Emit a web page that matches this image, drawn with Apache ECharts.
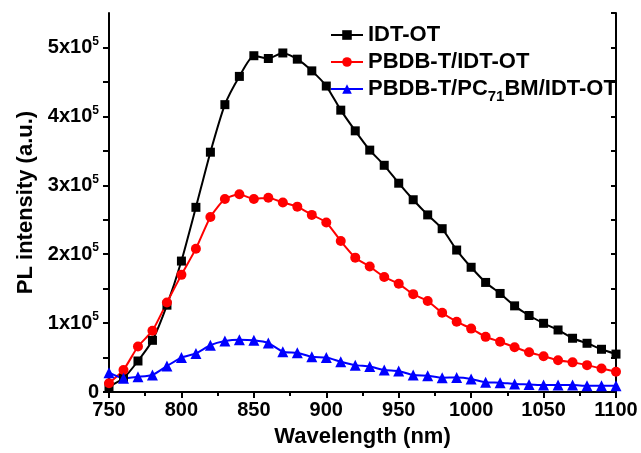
<!DOCTYPE html>
<html>
<head>
<meta charset="utf-8">
<script src="https://cdn.jsdelivr.net/npm/echarts@6/dist/echarts.min.js"></script>
<style>
  html, body { margin: 0; padding: 0; background: #fff; }
  #chart { width: 641px; height: 453px; }
</style>
</head>
<body>
<div id="chart"></div>
<script>
// Emission wavelengths (nm), sampled every 10 nm
const wavelengths = [750, 760, 770, 780, 790, 800, 810, 820, 830, 840, 850, 860, 870, 880, 890,
  900, 910, 920, 930, 940, 950, 960, 970, 980, 990, 1000, 1010, 1020, 1030, 1040, 1050,
  1060, 1070, 1080, 1090, 1100];

// PL intensity (a.u.) for each film
const idtOt = [8000, 20000, 45000, 75000, 126000, 190000, 268000, 348000, 417000, 458000, 488000,
  484000, 492000, 483000, 466000, 444000, 409000, 379000, 351000, 329000, 303000, 279000,
  257000, 237000, 206000, 181000, 159000, 143000, 125000, 111000, 99700, 90000, 78000,
  70700, 62000, 55000];
const pbdbIdt = [12600, 32000, 66000, 89000, 130000, 170000, 208000, 254000, 280000, 287000, 280000,
  282000, 275000, 269000, 257000, 246000, 219000, 195000, 182000, 167000, 157000, 142000,
  132000, 115000, 102000, 92000, 80000, 73000, 65000, 57600, 52000, 46000, 43000, 39000,
  34000, 29500];
const pbdbPcbmIdt = [28000, 20000, 22000, 24700, 37700, 50000, 56000, 68000, 74000, 76000, 75000,
  71000, 58500, 57000, 51000, 50000, 44000, 39000, 37000, 32000, 30500, 24700, 23700,
  20800, 21000, 19000, 14000, 13500, 11600, 11000, 10000, 10000, 10000, 9000, 9000, 9000];

const seriesNames = ['IDT-OT', 'PBDB-T/IDT-OT', 'PBDB-T/PC71BM/IDT-OT'];
const xTicks = { min: 750, max: 1100, step: 50 };
const yTicks = { min: 0, max: 550000, step: 100000 };

const FONT = 'Arial, "Liberation Sans", sans-serif';

function pairs(ys) {
  return wavelengths.map((x, i) => [x, ys[i]]);
}

function xLabel(v) {
  return String(v);
}

function yLabel(v) {
  if (v === 0) return '{b|0}';
  if (v % 100000 !== 0) return '';
  return '{b|' + (v / 100000) + 'x10}{s|5}';
}

function legendLabel(name) {
  if (name === 'PBDB-T/PC71BM/IDT-OT') {
    return '{a|PBDB-T/PC}{s|71}{a|BM/IDT-OT}';
  }
  return '{a|' + name + '}';
}

const axisLine = { show: true, lineStyle: { color: '#000', width: 2 } };

const chart = echarts.init(document.getElementById('chart'), null, { renderer: 'canvas' });

chart.setOption({
  backgroundColor: '#fff',
  animation: false,
  grid: { left: 109, right: 25, top: 13, bottom: 61, containLabel: false },
  legend: {
    data: seriesNames,
    orient: 'vertical',
    left: 325,
    top: 19,
    itemWidth: 32,
    itemHeight: 12,
    itemGap: 5,
    formatter: legendLabel,
    textStyle: {
      fontFamily: FONT,
      fontWeight: 'bold',
      fontSize: 22,
      color: '#000',
      rich: {
        a: { fontFamily: FONT, fontWeight: 'bold', fontSize: 22, color: '#000' },
        s: { fontFamily: FONT, fontWeight: 'bold', fontSize: 15, color: '#000', padding: [16, 0, 0, 0] }
      }
    }
  },
  xAxis: [
    {
      type: 'value',
      position: 'bottom',
      min: xTicks.min,
      max: xTicks.max,
      interval: xTicks.step,
      name: 'Wavelength (nm)',
      nameLocation: 'middle',
      nameGap: 34,
      nameTextStyle: { fontFamily: FONT, fontWeight: 'bold', fontSize: 22, color: '#000' },
      axisLine: axisLine,
      axisTick: { show: true, inside: false, length: 6, lineStyle: { color: '#000', width: 2 } },
      minorTick: { show: true, splitNumber: 2, length: 4, lineStyle: { color: '#000', width: 2 } },
      axisLabel: { margin: 8, formatter: xLabel, fontFamily: FONT, fontWeight: 'bold', fontSize: 20, color: '#000' },
      splitLine: { show: false }
    },
    {
      type: 'value',
      position: 'top',
      min: xTicks.min,
      max: xTicks.max,
      interval: xTicks.step,
      axisLine: axisLine,
      axisTick: { show: true, inside: true, length: 5, lineStyle: { color: '#000', width: 2 } },
      minorTick: { show: true, splitNumber: 2, length: 3, lineStyle: { color: '#000', width: 2 } },
      axisLabel: { show: false },
      splitLine: { show: false }
    }
  ],
  yAxis: [
    {
      type: 'value',
      position: 'left',
      min: yTicks.min,
      max: yTicks.max,
      interval: yTicks.step / 2,
      name: 'PL intensity (a.u.)',
      nameLocation: 'middle',
      nameGap: 72,
      nameTextStyle: { fontFamily: FONT, fontWeight: 'bold', fontSize: 22, color: '#000' },
      axisLine: axisLine,
      axisTick: {
        show: true, inside: false, length: 6,
        lineStyle: { color: '#000', width: 2 }
      },
      axisLabel: {
        margin: 10,
        formatter: yLabel,
        showMaxLabel: false,
        rich: {
          b: { fontFamily: FONT, fontWeight: 'bold', fontSize: 20, color: '#000' },
          s: { fontFamily: FONT, fontWeight: 'bold', fontSize: 12, color: '#000', padding: [0, 0, 12, 0] }
        }
      },
      splitLine: { show: false }
    },
    {
      type: 'value',
      position: 'right',
      min: yTicks.min,
      max: yTicks.max,
      interval: yTicks.step / 2,
      axisLine: axisLine,
      axisTick: { show: true, inside: true, length: 5, lineStyle: { color: '#000', width: 2 } },
      axisLabel: { show: false },
      splitLine: { show: false }
    }
  ],
  series: [
    {
      name: seriesNames[0],
      type: 'line',
      xAxisIndex: 0,
      yAxisIndex: 0,
      data: pairs(idtOt),
      smooth: 0.2,
      symbol: 'rect',
      symbolSize: 9,
      color: '#000000',
      lineStyle: { width: 2, color: '#000000' },
      itemStyle: { color: '#000000' }
    },
    {
      name: seriesNames[1],
      type: 'line',
      xAxisIndex: 0,
      yAxisIndex: 0,
      data: pairs(pbdbIdt),
      smooth: 0.2,
      symbol: 'circle',
      symbolSize: 10,
      color: '#ff0000',
      lineStyle: { width: 2, color: '#ff0000' },
      itemStyle: { color: '#ff0000' }
    },
    {
      name: seriesNames[2],
      type: 'line',
      xAxisIndex: 0,
      yAxisIndex: 0,
      data: pairs(pbdbPcbmIdt),
      smooth: 0.2,
      symbol: 'triangle',
      symbolSize: 11,
      color: '#0000ff',
      lineStyle: { width: 2, color: '#0000ff' },
      itemStyle: { color: '#0000ff' }
    }
  ]
});
</script>
</body>
</html>
